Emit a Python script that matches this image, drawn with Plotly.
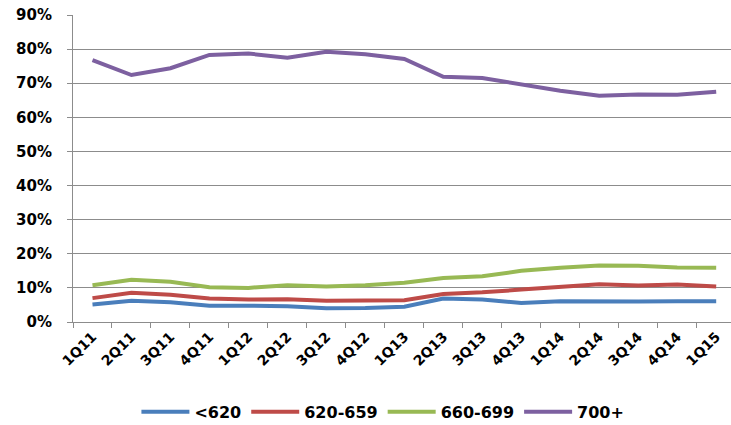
import plotly.graph_objects as go

quarters = ["1Q11", "2Q11", "3Q11", "4Q11", "1Q12", "2Q12", "3Q12", "4Q12", "1Q13",
            "2Q13", "3Q13", "4Q13", "1Q14", "2Q14", "3Q14", "4Q14", "1Q15"]

s_lt620 = [0.051, 0.062, 0.058, 0.048, 0.048, 0.046, 0.040, 0.041, 0.045,
           0.069, 0.066, 0.056, 0.061, 0.060, 0.060, 0.061, 0.061]
s_620_659 = [0.070, 0.086, 0.080, 0.069, 0.066, 0.067, 0.062, 0.064, 0.064,
             0.082, 0.087, 0.095, 0.103, 0.111, 0.107, 0.110, 0.104]
s_660_699 = [0.108, 0.124, 0.118, 0.102, 0.100, 0.108, 0.104, 0.108, 0.115,
             0.129, 0.134, 0.150, 0.159, 0.166, 0.165, 0.160, 0.159]
s_700p = [0.768, 0.724, 0.744, 0.783, 0.787, 0.775, 0.792, 0.785, 0.771,
          0.719, 0.715, 0.697, 0.678, 0.663, 0.667, 0.666, 0.675]

series_names = ["<620", "620-659", "660-699", "700+"]
series_colors = ["#4A7EBB", "#BE4B48", "#98B954", "#7D60A0"]
series_values = [s_lt620, s_620_659, s_660_699, s_700p]

FONT = "DejaVu Sans"
GRID = "#8C8C8C"

fig = go.Figure()
for name, color, vals in zip(series_names, series_colors, series_values):
    fig.add_trace(go.Scatter(
        x=quarters, y=vals, name=name, mode="lines",
        line=dict(color=color, width=4),
    ))

fig.update_layout(
    width=731, height=425,
    margin=dict(l=73, r=0, t=15, b=103, autoexpand=False),
    paper_bgcolor="white", plot_bgcolor="white",
    font=dict(family=FONT, color="#000000", weight="bold"),
    showlegend=True,
    legend=dict(
        orientation="h", x=0.471, xanchor="center", y=-0.293, yanchor="middle",
        font=dict(family=FONT, size=16, color="#000000", weight="bold"),
        itemwidth=48, tracegroupgap=0,
    ),
    xaxis=dict(
        type="category", range=[-0.5, 16.38], automargin=False,
        showgrid=False, showline=True, linecolor=GRID, linewidth=1,
        ticks="outside", ticklen=5, tickcolor=GRID, tickwidth=1,
        tickson="boundaries", tickangle=-45,
        tickfont=dict(family=FONT, size=14, color="#000000", weight="bold"),
    ),
    yaxis=dict(
        range=[0, 0.9], dtick=0.1, tickformat=".0%", automargin=False,
        showgrid=True, gridcolor=GRID, gridwidth=1,
        showline=True, linecolor=GRID, linewidth=1,
        ticks="outside", ticklen=5, tickcolor=GRID, tickwidth=1,
        ticklabelstandoff=12, zeroline=False,
        tickfont=dict(family=FONT, size=15, color="#000000", weight="bold"),
    ),
)

fig.write_html("out.html")
